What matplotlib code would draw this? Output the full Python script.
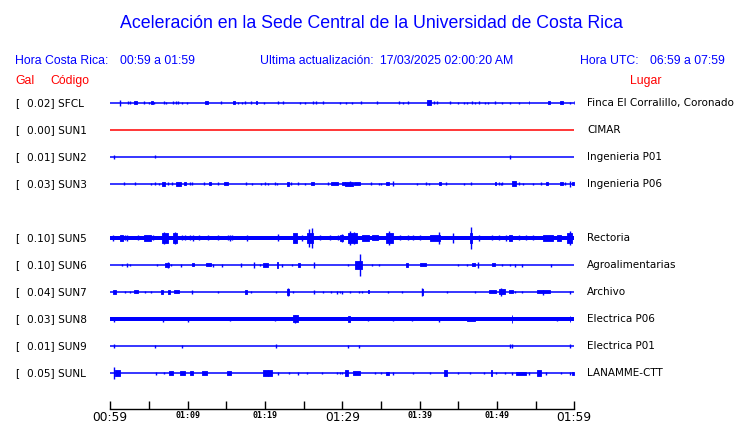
import numpy as np
import matplotlib
matplotlib.use('Agg')
import matplotlib.pyplot as plt
import matplotlib.transforms as mtransforms

# stations top to bottom (SUN4 slot left empty)
codes = ['SFCL', 'SUN1', 'SUN2', 'SUN3', None, 'SUN5', 'SUN6', 'SUN7', 'SUN8', 'SUN9', 'SUNL']
peaks = ['0.02', '0.00', '0.01', '0.03', None, '0.10', '0.10', '0.04', '0.03', '0.01', '0.05']
places = ['Finca El Corralillo, Coronado', 'CIMAR', 'Ingenieria P01', 'Ingenieria P06', None,
          'Rectoria', 'Agroalimentarias', 'Archivo', 'Electrica P06', 'Electrica P01', 'LANAMME-CTT']
trace_colors = ['blue', 'red', 'blue', 'blue', None, 'blue', 'blue', 'blue', 'blue', 'blue', 'blue']
# background noise half width (display px), 0 = thin line
noise = [0, 0, 0, 0, None, 1.8, 0, 0, 1.7, 0, 0]

# bursts: (start minute, end minute, half amplitude in display px), minutes after 00:59
bursts_sfcl = [(1.3,1.3,3),(2.3,2.3,1.5),(2.6,2.6,1.5),(3.1,3.5,1.5),(4.3,4.3,1.5),(5.0,5.0,1.2),(5.3,5.5,1.5),
    (5.7,5.7,1.2),(7.0,7.0,1.5),(7.2,7.2,1.2),(8.1,8.1,1.5),(8.5,8.5,1.5),(8.8,8.8,1.5),(9.3,9.3,1),(9.9,9.9,1),
    (12.3,12.6,1.5),(14.3,14.3,1.5),(15.9,16.1,1.5),(16.5,16.5,1.2),(17.0,17.0,1),(17.4,17.4,1.5),(18.2,18.2,1.5),
    (18.8,19.0,1.5),(19.9,19.9,1),(21.7,21.7,1.5),(22.3,22.3,1.5),(24.5,24.5,1),(25.2,25.2,1),(26.2,26.2,1.5),
    (26.6,26.6,1.5),(27.5,27.5,1.5),(29.7,29.7,1),(30.5,30.5,1),(31.2,31.2,1),(32.4,32.4,1.5),(34.5,34.5,1.5),
    (37.3,37.3,1.5),(37.9,37.9,1.2),(38.5,38.5,1.5),(40.9,41.5,2.5),(41.8,41.8,1.5),(42.3,42.3,1.5),(43.9,43.9,1.5),
    (44.9,44.9,1.2),(45.7,45.7,1.2),(46.1,46.1,1.2),(46.8,46.8,1.5),(47.1,47.1,1),(47.7,47.7,1.5),(48.5,48.5,1.2),
    (48.9,48.9,1),(49.8,49.8,1.5),(50.7,50.7,1),(51.7,51.7,1.2),(52.9,52.9,1),(54.1,54.2,1.5),(56.6,56.8,1.5),
    (58.2,58.5,1.5),(59.5,59.5,1.2),(59.9,60,1.5)]
bursts_sun1 = []
bursts_sun2 = [(0.5,0.5,2),(5.8,5.8,1.5),(51.7,51.7,2)]
bursts_sun3 = [(1.8,1.8,1.5),(3.2,3.2,1.5),(5.2,5.2,1.2),(5.8,5.8,1.5),(6.3,6.3,1.2),(6.7,7.1,2),(7.5,7.5,1.5),
    (8.0,8.0,1.5),(8.5,9.2,2),(9.5,9.8,1.5),(10.3,10.3,1.5),(10.6,10.6,1.5),(12.1,12.1,1.5),(12.8,13.0,1.5),
    (13.9,13.9,1.5),(14.7,15.2,1.5),(17.5,17.5,1.5),(18.3,18.3,1.2),(19.5,19.5,1.2),(20.0,20.0,1.5),(20.4,20.4,1.2),
    (21.3,21.3,1.5),(21.5,21.5,1.2),(22.8,23.1,2),(23.4,23.4,1.5),(24.3,24.3,1.5),(25.2,25.2,1.2),(25.9,26.3,1.5),
    (28.1,28.1,1.5),(28.5,29.4,1.5),(29.9,30.3,1.5),(30.3,31.4,2),(31.0,31.0,2.5),(31.5,32.3,1.5),(33.7,33.7,1.5),
    (34.7,34.7,1.2),(35.0,35.0,1.2),(35.7,36.0,1.5),(36.5,36.5,2.5),(39.6,39.6,1.2),(40.8,40.8,1.5),(41.2,41.2,1.2),
    (42.5,42.7,1.5),(43.4,43.4,1.5),(45.7,45.7,1.2),(46.6,46.6,1.5),(49.7,49.9,1.5),(50.2,50.2,1.5),(50.5,50.5,1.2),
    (50.7,50.7,1.5),(51.9,52.5,2.5),(52.9,52.9,1.5),(53.4,53.4,1.2),(54.6,54.6,1.2),(55.7,55.7,1.5),(56.3,56.6,1.5),
    (58.2,58.5,1.5),(58.8,58.8,1.5),(59.4,59.4,3),(59.7,60,1.5)]
bursts_sun5 = [(0.3,0.3,3),(1.3,1.7,3),(1.9,1.9,2.5),(2.2,2.2,3),(3.6,3.6,2.5),(4.3,5.2,3),(5.5,5.5,2.5),(6.7,7.4,5),
    (6.9,6.9,6),(8.1,8.6,5),(8.4,8.4,6),(9.3,9.3,2.5),(9.7,9.7,2.5),(10.3,10.3,2.5),(10.7,10.7,3),(11.5,11.5,2.5),
    (12.6,12.6,2.5),(13.9,13.9,2.5),(15.2,15.2,2.5),(15.5,15.5,3),(15.7,15.7,2.5),(17.7,17.7,3),(21.7,21.7,3.5),
    (23.6,24.1,5),(24.8,24.8,3),(25.4,26.2,5),(25.7,25.7,9),(26.1,26.1,10),(27.1,27.1,2.5),(28.4,28.4,2.5),
    (29.4,29.4,2.5),(29.9,29.9,4),(29.7,30.1,3),(30.7,31.9,5),(31.0,31.0,7),(31.5,31.5,6),(32.5,33.5,3),
    (33.9,34.6,2.5),(35.7,36.5,5),(36.0,36.0,7),(37.4,37.4,2.5),(38.5,38.5,2.5),(39.1,39.1,2.5),(40.0,40.0,2.5),
    (41.3,42.6,3),(42.5,42.5,6),(44.3,44.3,5),(46.5,46.8,5),(46.7,46.7,11),(47.7,47.7,3),(49.4,49.4,2.5),
    (50.3,50.3,2.5),(51.2,51.2,3),(51.6,51.9,3),(52.9,52.9,2.5),(53.8,53.8,2.5),(54.6,54.6,2.5),(55.9,57.2,3),
    (57.8,58.3,3),(59.0,59.7,5),(59.5,59.5,7)]
bursts_sun6 = [(1.5,1.5,1.2),(2.2,2.2,2),(2.6,2.6,1.2),(6.1,6.1,1),(7.1,7.6,2),(7.4,7.4,3),(7.9,7.9,1.2),(9.2,9.2,1.5),
    (10.6,10.8,1.5),(12.4,13.0,1.5),(13.3,13.3,1.5),(14.5,14.5,1.5),(16.9,16.9,2),(18.6,18.6,3),(19.4,19.4,1.2),
    (19.7,20.4,2),(21.5,21.7,3),(22.2,22.2,1.5),(23.5,23.5,1.2),(24.3,24.5,2),(26.3,26.3,3),(30.8,30.8,1.2),
    (31.7,32.6,4),(32.3,32.3,11),(33.8,33.8,1.2),(34.8,34.8,1),(38.3,38.5,2),(40.0,40.8,1.5),(44.9,44.9,1.2),
    (46.1,46.1,1.2),(46.8,47.1,1.5),(47.5,47.5,3),(49.3,49.7,1.5),(50.6,50.6,1.2),(51.7,51.7,1.2),(52.3,52.3,1.5),
    (53.2,53.2,1.5),(57.0,57.0,1.5)]
bursts_sun7 = [(0.3,0.8,2),(1.9,1.9,1.2),(2.5,2.5,1.2),(3.0,3.6,1.5),(4.5,4.5,1),(5.2,5.2,1),(6.5,6.8,2),(7.4,7.7,2),
    (8.3,8.9,1.5),(10.6,10.6,2),(13.9,13.9,1),(17.4,17.7,2),(18.2,18.2,1),(21.4,21.4,1),(22.8,23.1,3),(23.0,23.0,4),
    (23.6,23.6,1),(26.3,26.3,2),(27.5,27.5,1),(28.5,28.5,1.2),(29.3,29.3,1.5),(29.9,29.9,1.5),(29.7,29.7,1),
    (31.0,31.0,1),(32.1,32.1,1.2),(32.5,32.5,1),(33.3,33.5,1.5),(35.9,35.9,1),(37.7,37.7,1.2),(40.3,40.4,3),
    (40.35,40.35,4),(43.5,43.5,1),(47.1,47.1,1),(49.0,49.9,1.5),(50.3,51.0,2.5),(50.5,50.5,4),(51.6,52.1,1.5),
    (52.3,52.3,1),(53.2,53.2,1),(55.2,56.8,1.5),(56.0,56.0,2.5),(59.4,59.4,1.5)]
bursts_sun8 = [(0.5,0.5,2.5),(6.8,6.8,2.5),(10.1,10.1,2.5),(15.5,15.5,2),(21.3,21.3,2.2),(23.6,24.3,3.5),(23.9,23.9,4),
    (30.7,31.0,2.5),(33.3,33.3,2),(36.5,36.5,2),(39.0,39.0,2),(42.5,42.5,2.5),(46.1,47.1,2),(51.9,52.0,4),
    (57.8,57.8,2),(59.4,59.5,3)]
bursts_sun9 = [(0.5,0.5,2),(5.8,5.8,1.5),(9.3,9.3,1.5),(21.4,21.4,2),(30.8,30.8,1.5),(32.1,32.1,1.5),(51.7,51.7,2),
    (52.0,52.0,2),(59.4,59.4,2)]
bursts_sunl = [(0.5,0.5,6),(0.6,1.3,2.5),(5.9,5.9,1.5),(7.0,7.0,1.2),(7.6,8.1,2),(9.0,9.7,2),(10.3,10.7,2),
    (11.9,12.5,2),(15.1,15.6,2),(19.7,20.9,2.5),(20.4,20.4,3),(21.7,21.7,1.5),(23.1,23.1,1.2),(24.3,24.3,1.5),
    (25.4,25.4,1.2),(27.4,27.4,1.2),(29.3,29.3,1.2),(29.9,29.9,1.2),(29.7,29.7,1.2),(30.3,30.7,2.5),(31.4,32.3,2),
    (34.2,34.2,1.2),(35.0,35.0,1.2),(35.7,36.0,1.5),(36.5,36.5,1.5),(39.1,39.1,1.2),(41.4,41.4,1.2),(43.2,43.6,3),
    (44.9,44.9,1.2),(46.5,46.5,1.2),(48.3,48.3,1.2),(49.2,49.4,2.5),(49.9,49.9,1.2),(51.0,51.0,1.2),(51.9,51.9,1.5),
    (52.5,53.8,1.5),(54.1,54.1,1.5),(55.2,55.7,3),(56.3,56.3,1.5),(58.3,58.3,1.2),(59.4,59.4,1.5),(59.7,60,1.5)]
bursts = [bursts_sfcl, bursts_sun1, bursts_sun2, bursts_sun3, None, bursts_sun5, bursts_sun6,
          bursts_sun7, bursts_sun8, bursts_sun9, bursts_sunl]

tick_minutes = [0, 5, 10, 15, 20, 25, 30, 35, 40, 45, 50, 55, 60]
tick_labels = ['00:59', '', '01:09', '', '01:19', '', '01:29', '', '01:39', '', '01:49', '', '01:59']
big_labels = ['00:59', '01:29', '01:59']

W, H = 740, 423
row_px = 27.0  # display px per row, used to scale burst amplitudes

fig = plt.figure(figsize=(W / 100, H / 100), dpi=100)
ax = fig.add_axes([110.3 / W, (H - 409) / H, 464 / W, (409 - 88) / H])
ax.set_xlim(0, 60)
ax.set_ylim((409 - 103) / row_px, (88 - 103) / row_px)

for i, code in enumerate(codes):
    if code is None:
        continue
    c = trace_colors[i]
    if noise[i] > 0:
        ax.fill_between([0, 60], i - noise[i] / row_px, i + noise[i] / row_px, color=c, lw=0)
    else:
        ax.hlines(i, 0, 60, color=c, lw=1.1)
    for t0, t1, a in bursts[i]:
        if t1 > t0:
            ax.fill_between([t0, t1], i - a / row_px, i + a / row_px, color=c, lw=0.6)
        else:
            ax.vlines(t0, i - a / row_px, i + a / row_px, color=c, lw=1.0)

for s in ['left', 'right', 'top']:
    ax.spines[s].set_visible(False)
ax.spines['bottom'].set_linewidth(1.0)
ax.set_yticks([])
ax.set_xticks(tick_minutes)
ax.set_xticklabels(tick_labels)
ax.tick_params(axis='x', direction='in', length=6, width=1.0, pad=1.5)
for lab in ax.get_xticklabels():
    if lab.get_text() in big_labels:
        lab.set_fontsize(8.8)
        lab.set_family('DejaVu Sans')
    else:
        lab.set_fontsize(6)
        lab.set_family('DejaVu Sans Mono')
        lab.set_fontweight('bold')

# row labels
trans = mtransforms.blended_transform_factory(fig.transFigure, ax.transData)
for i, code in enumerate(codes):
    if code is None:
        continue
    ax.text(15 / W, i, '[', transform=trans, fontsize=7.6, va='center', ha='left')
    ax.text(27 / W, i, peaks[i] + '] ' + code, transform=trans, fontsize=7.6, va='center', ha='left')
    ax.text(587 / W, i, places[i], transform=trans, fontsize=7.5, va='center', ha='left')

hf = 'Liberation Sans'
blue = '#0000ff'
red = '#ff0000'
fig.text(371 / W, 1 - 23 / H, 'Aceleración en la Sede Central de la Universidad de Costa Rica',
         ha='center', va='center', fontsize=12.8, color=blue, family=hf)
hy = 1 - 61 / H
fig.text(15 / W, hy, 'Hora Costa Rica:', color=blue, fontsize=8.8, family=hf, va='center')
fig.text(120 / W, hy, '00:59 a 01:59', color=blue, fontsize=8.8, family=hf, va='center')
fig.text(260 / W, hy, 'Ultima actualización:', color=blue, fontsize=8.8, family=hf, va='center')
fig.text(380 / W, hy, '17/03/2025 02:00:20 AM', color=blue, fontsize=8.8, family=hf, va='center')
fig.text(580 / W, hy, 'Hora UTC:', color=blue, fontsize=8.8, family=hf, va='center')
fig.text(650 / W, hy, '06:59 a 07:59', color=blue, fontsize=8.8, family=hf, va='center')
gy = 1 - 81 / H
fig.text(15 / W, gy, 'Gal', color=red, fontsize=8.8, family=hf, va='center')
fig.text(50 / W, gy, 'Código', color=red, fontsize=8.8, family=hf, va='center')
fig.text(630 / W, gy, 'Lugar', color=red, fontsize=8.8, family=hf, va='center')

fig.savefig('out.png', dpi=100)
